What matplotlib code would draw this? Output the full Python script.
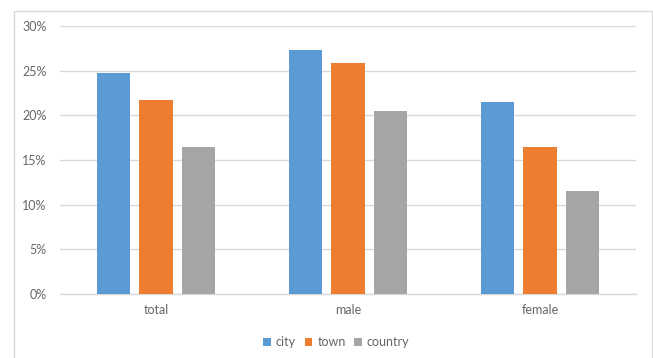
import matplotlib
matplotlib.use("Agg")
import matplotlib.pyplot as plt
from matplotlib.patches import Rectangle
from matplotlib.ticker import FuncFormatter

categories = ["total", "male", "female"]
series_names = ["city", "town", "country"]
city = [0.247, 0.273, 0.215]
town = [0.217, 0.259, 0.165]
country = [0.165, 0.205, 0.115]
yticks = [0, 0.05, 0.10, 0.15, 0.20, 0.25, 0.30]
colors = ["#5B9BD5", "#ED7D31", "#A5A5A5"]

plt.rcParams['font.family'] = ['Lato', 'DejaVu Sans']
W, H = 653, 358
fig = plt.figure(figsize=(W / 100, H / 100), dpi=100)

# outer chart border
fig.patches.append(Rectangle((13.5 / W, 1 - 370 / H), (651.5 - 13.5) / W, (370 - 10.5) / H,
                             transform=fig.transFigure, fill=False,
                             edgecolor="#D9D9D9", linewidth=1.0))

ax = fig.add_axes([60 / W, 1 - 294 / H, (636 - 60) / W, (294 - 26) / H])
n = len(categories)
width = 0.172
step = 0.219
for i, (vals, name, col) in enumerate(zip([city, town, country], series_names, colors)):
    xs = [c + (i - 1) * step for c in range(n)]
    ax.bar(xs, vals, width=width, color=col, label=name, zorder=3)

ax.set_xlim(-0.5, n - 0.5)
ax.set_ylim(0, 0.30)
ax.set_yticks(yticks)
ax.yaxis.set_major_formatter(FuncFormatter(lambda v, p: f"{round(v*100)}%"))
ax.set_xticks(range(n))
ax.set_xticklabels(categories)
ax.grid(axis="y", color="#D9D9D9", linewidth=1.0, zorder=0)
for s in ["top", "right", "left"]:
    ax.spines[s].set_visible(False)
ax.spines["bottom"].set_color("#D9D9D9")
ax.spines["bottom"].set_linewidth(1.0)
ax.tick_params(axis="both", length=0, labelsize=9, colors="#666666")
ax.tick_params(axis="y", pad=9.5)
ax.tick_params(axis="x", pad=7)

leg = ax.legend(loc="center", bbox_to_anchor=(0.48, -0.18), ncol=3, frameon=False,
                fontsize=9, handlelength=0.6, handleheight=0.6, handletextpad=0.4,
                columnspacing=0.7, borderaxespad=0)
for t in leg.get_texts():
    t.set_color("#666666")

fig.savefig("out.png", dpi=100)
